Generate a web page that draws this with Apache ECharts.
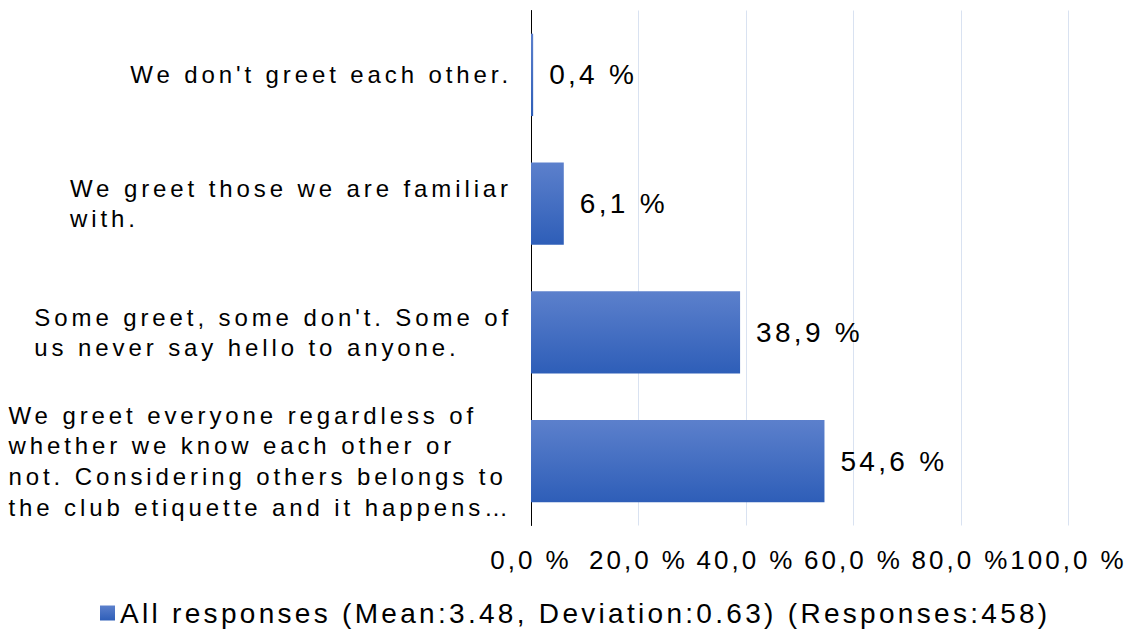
<!DOCTYPE html>
<html>
<head>
<meta charset="utf-8">
<title>Greeting habits</title>
<script src="https://cdn.jsdelivr.net/npm/echarts@6/dist/echarts.min.js"></script>
<style>
  html, body { margin: 0; padding: 0; background: #fff; }
  #chart { width: 1130px; height: 631px; }
  /* wide letter spacing like the original export */
  #chart text[style*="24px"] { letter-spacing: 3.9px; }
  #chart text[style*="26px"] { letter-spacing: 3px; }
  #chart text[style*="28px"] { letter-spacing: 3.3px; }
</style>
</head>
<body>
<div id="chart"></div>
<script>
const categories = [
  "We don't greet each other.",
  "We greet those we are familiar\nwith.",
  "Some greet, some don't. Some of\nus never say hello to anyone.",
  "We greet everyone regardless of\nwhether we know each other or\nnot. Considering others belongs to\nthe club etiquette and it happens\u2026",
];
const values = [0.4, 6.1, 38.9, 54.6];
const xTicks = [0, 20, 40, 60, 80, 100];
const seriesName = "All responses (Mean:3.48, Deviation:0.63) (Responses:458)";

const FONT = "Liberation Sans";
// same spacing (px) as the css rules above, keyed by font size
const letterSpacing = { 24: 3.9, 26: 3, 28: 3.3 };

const pct = (v) => v.toFixed(1).replace(".", ",") + " %";

// let echarts measure text with the extra letter spacing
const measureCtx = document.createElement("canvas").getContext("2d");
if (echarts.setPlatformAPI) {
  echarts.setPlatformAPI({
    measureText(text, font) {
      measureCtx.font = font || "12px sans-serif";
      const m = measureCtx.measureText(text);
      const px = parseFloat((/(\d+(?:\.\d+)?)px/.exec(font || "") || [])[1]) || 12;
      let n = 0;
      for (const c of text) if (c.charCodeAt(0) < 0x2e80) n++;
      return {
        width: m.width + n * (letterSpacing[px] || 0),
        actualBoundingBoxAscent: m.actualBoundingBoxAscent,
        actualBoundingBoxDescent: m.actualBoundingBoxDescent,
        actualBoundingBoxLeft: m.actualBoundingBoxLeft,
        actualBoundingBoxRight: m.actualBoundingBoxRight,
      };
    },
  });
}

const options = {
  animation: false,
  grid: {
    left: 531,
    right: 61.5,
    top: 10.5,
    bottom: 105.5,
    containLabel: false,
    outerBoundsMode: "none",
  },
  legend: {
    left: 100,
    top: 598,
    padding: 0,
    icon: "rect",
    itemWidth: 15,
    itemHeight: 15,
    data: [seriesName],
    textStyle: {
      fontFamily: FONT,
      fontSize: 28,
      color: "#000",
      lineHeight: 30,
    },
  },
  xAxis: {
    type: "value",
    min: xTicks[0],
    max: xTicks[xTicks.length - 1],
    interval: xTicks[1] - xTicks[0],
    axisLine: { show: false },
    axisTick: { show: false },
    splitLine: {
      lineStyle: { color: "#d9e2f1", width: 1 },
    },
    axisLabel: {
      margin: 19,
      fontFamily: FONT,
      fontSize: 26,
      lineHeight: 30,
      color: "#000",
      hideOverlap: false,
      formatter: (v) => pct(v),
    },
  },
  yAxis: {
    type: "category",
    data: categories,
    inverse: true,
    axisLine: {
      show: true,
      lineStyle: { color: "#000", width: 1 },
    },
    axisTick: { show: false },
    splitLine: { show: false },
    axisLabel: {
      interval: 0,
      margin: 19,
      fontFamily: FONT,
      fontSize: 24,
      color: "#000",
      // lines are left aligned inside a right aligned block
      formatter: (v) => "{a|" + v + "}",
      rich: {
        a: {
          align: "left",
          fontFamily: FONT,
          fontSize: 24,
          lineHeight: 30.7,
          color: "#000",
        },
      },
    },
  },
  series: [
    {
      name: seriesName,
      type: "bar",
      barWidth: "64%",
      data: values,
      itemStyle: {
        color: new echarts.graphic.LinearGradient(0, 0, 0, 1, [
          { offset: 0, color: "#5c80cc" },
          { offset: 1, color: "#2e5eb8" },
        ]),
      },
      label: {
        show: true,
        position: "right",
        distance: 16,
        fontFamily: FONT,
        fontSize: 28,
        color: "#000",
        formatter: (p) => pct(p.value),
      },
    },
  ],
};

const chart = echarts.init(document.getElementById("chart"), null, { renderer: "svg" });
chart.setOption(options);
</script>
</body>
</html>
